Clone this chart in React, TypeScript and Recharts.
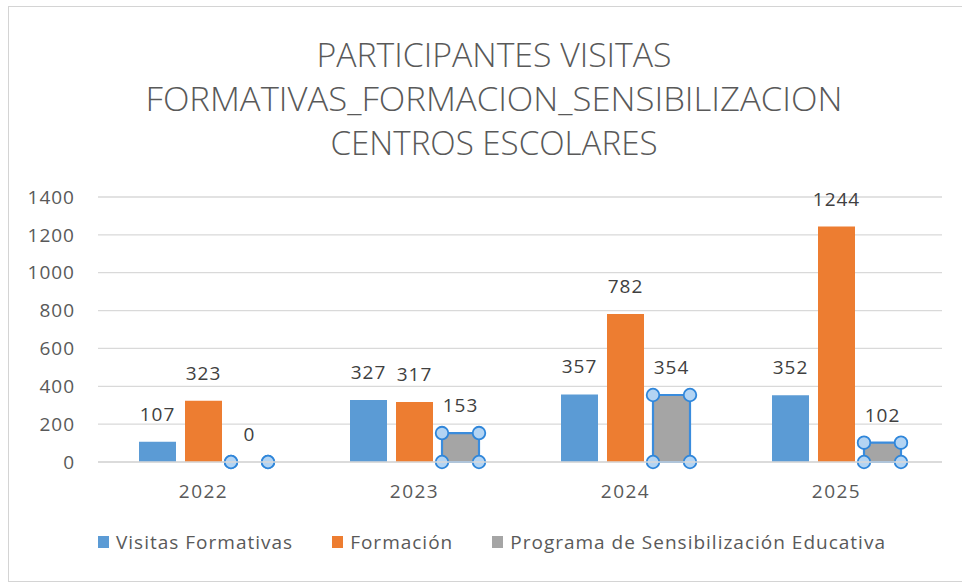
import { BarChart, Bar, XAxis, YAxis, CartesianGrid, LabelList } from 'recharts';

// Participantes por año
const years = ['2022', '2023', '2024', '2025'];
const visitasFormativas = [107, 327, 357, 352];
const formacion = [323, 317, 782, 1244];
const programaSensibilizacion = [0, 153, 354, 102];
const yTicks = [0, 200, 400, 600, 800, 1000, 1200, 1400];

const titleLines = ['PARTICIPANTES VISITAS', 'FORMATIVAS_FORMACION_SENSIBILIZACION', 'CENTROS ESCOLARES'];

const seriesNames = ['Visitas Formativas', 'Formación', 'Programa de Sensibilización Educativa'];
const colors = ['#5B9BD5', '#ED7D31', '#A5A5A5'];

const FONT = '"Open Sans", "Noto Sans", sans-serif';

const data = years.map((year, i) => ({
  year,
  visitas: visitasFormativas[i],
  formacion: formacion[i],
  programa: programaSensibilizacion[i],
}));

// gray series is drawn "selected", like in Excel: blue outline + corner handles
const SelectedBar = (props: any) => {
  const { x, y, width, fill } = props;
  const height = props.height || 0;
  const corners = [
    [x, y],
    [x + width, y],
    [x, y + height],
    [x + width, y + height],
  ];
  return (
    <g>
      {height > 0 && (
        <rect x={x} y={y} width={width} height={height} rx={3} fill={fill} stroke="#3A8CDD" strokeWidth={2.2} />
      )}
      {corners.map(([cx, cy], i) => (
        <circle key={i} cx={cx} cy={cy} r={6.3} fill="#B3D4F3" stroke="#2F86DA" strokeWidth={1.8} />
      ))}
    </g>
  );
};

const tickStyle = { fill: '#595959', fontSize: 19, fontFamily: FONT, letterSpacing: 1 };
const labelStyle = { fill: '#404040', fontSize: 19, fontFamily: FONT, letterSpacing: 1 };

export default function App() {
  return (
    <div style={{ position: 'absolute', left: 0, top: 0, width: 962, height: 584, background: '#fff', fontFamily: FONT, overflow: 'hidden' }}>
      {/* chart frame */}
      <div style={{ position: 'absolute', left: 8, top: 6, width: 1000, height: 576, border: '1px solid #D4D4D4', boxSizing: 'border-box' }} />

      {/* title */}
      <svg width={962} height={180} style={{ position: 'absolute', left: 0, top: 0 }}>
        {titleLines.map((line, i) => (
          <text
            key={i}
            x={494}
            y={67 + i * 44}
            textAnchor="middle"
            fontFamily={FONT}
            fontSize={33}
            fontWeight={300}
            fill="#595959"
            textLength={[355, 697, 327][i]}
            lengthAdjust="spacingAndGlyphs"
          >
            {line}
          </text>
        ))}
      </svg>

      <div style={{ position: 'absolute', left: 0, top: 0 }}>
        <BarChart width={962} height={584} data={data} margin={{ top: 197, right: 20, bottom: 82, left: 0 }} barSize={37} barGap={9}>
          <CartesianGrid vertical={false} stroke="#D9D9D9" strokeWidth={1.3} />
          <XAxis
            dataKey="year"
            height={40}
            tickLine={false}
            axisLine={{ stroke: '#D9D9D9', strokeWidth: 1.3 }}
            tickMargin={17}
            tick={{ ...tickStyle, letterSpacing: 1.5 }}
          />
          <YAxis
            width={98}
            domain={[0, 1400]}
            ticks={yTicks}
            tickLine={false}
            axisLine={false}
            tickMargin={17}
            tick={tickStyle}
          />
          <Bar dataKey="visitas" name={seriesNames[0]} fill={colors[0]} isAnimationActive={false}>
            <LabelList dataKey="visitas" position="top" offset={21} style={labelStyle} />
          </Bar>
          <Bar dataKey="formacion" name={seriesNames[1]} fill={colors[1]} isAnimationActive={false}>
            <LabelList dataKey="formacion" position="top" offset={21} style={labelStyle} />
          </Bar>
          <Bar dataKey="programa" name={seriesNames[2]} fill={colors[2]} shape={SelectedBar} isAnimationActive={false}>
            <LabelList dataKey="programa" position="top" offset={21} style={labelStyle} />
          </Bar>
        </BarChart>
      </div>

      {/* legend */}
      <div style={{ position: 'absolute', left: 98, top: 529, display: 'flex', alignItems: 'center', fontSize: 19, letterSpacing: 1, color: '#595959' }}>
        {seriesNames.map((name, i) => (
          <div key={name} style={{ display: 'flex', alignItems: 'center', marginRight: 39 }}>
            <span style={{ display: 'inline-block', width: 11, height: 12, background: colors[i], marginRight: 7 }} />
            <span>{name}</span>
          </div>
        ))}
      </div>
    </div>
  );
}
